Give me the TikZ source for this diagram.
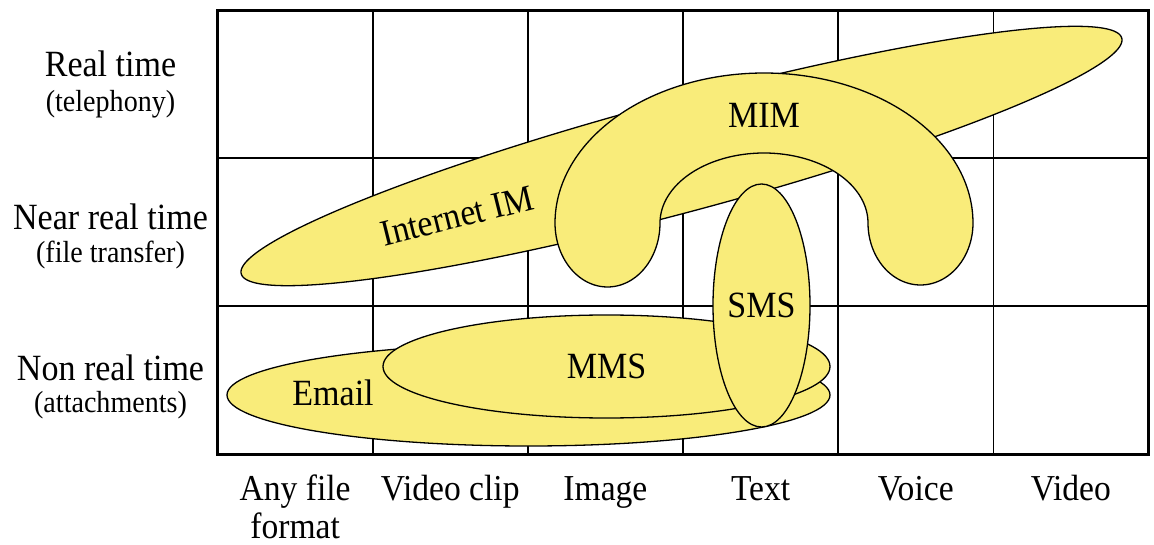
\documentclass[tikz,border=0pt]{standalone}
\usepackage{fontspec}
\setmainfont{Liberation Serif}[FakeStretch=0.92]
\usetikzlibrary{shapes.geometric}
\definecolor{blobfill}{RGB}{249,236,122}
\begin{document}
\begin{tikzpicture}[x=1pt,y=-1pt,
  gridline/.style={draw=black, line width=1.6pt},
  frame/.style={draw=black, line width=3pt},
  blob/.style={draw=black, line width=1.3pt, fill=blobfill, line join=round},
  oval/.style={blob, ellipse, inner sep=0pt, outer sep=0pt},
  biglabel/.style={font=\fontsize{37}{41}\selectfont, inner sep=0pt},
  smalllabel/.style={font=\fontsize{30.5}{34}\selectfont, inner sep=0pt},
  axislabel/.style={font=\fontsize{36.5}{41}\selectfont, inner sep=0pt, anchor=base},
  rowlabel/.style={biglabel, anchor=base},
  rownote/.style={smalllabel, anchor=base}]
\useasboundingbox (0,0) rectangle (1154,545);

% grid of latency classes (rows) and media types (columns)
\foreach \c in {372.7,527.8,683,838.2,993.3}
  \draw[gridline] (\c,10.5) -- (\c,454);
\foreach \r in {158,306}
  \draw[gridline] (217.5,\r) -- (1148.5,\r);

% Internet IM: long slanted oval
\draw[blob] plot[domain=0:360, samples=361]
  ({681.5+440.5*cos(\x)}, {156-116*cos(\x)+58*sin(\x)}) -- cycle;

% MIM: horseshoe band with rounded feet
\draw[blob]
  plot[domain=180:0, samples=120] ({764+209*cos(\x)}, {223-150*sin(\x)})
  -- plot[domain=0:180, samples=60] ({920.5+52.5*cos(\x)}, {223+62*sin(\x)})
  -- plot[domain=0:180, samples=90] ({764+104*cos(\x)}, {223-70*sin(\x)})
  -- plot[domain=0:180, samples=60] ({607.5+52.5*cos(\x)}, {223+64*sin(\x)})
  -- cycle;

% Email, MMS and SMS ovals
\node[oval, minimum width=603, minimum height=102] (email) at (528.5,395) {};
\node[oval, minimum width=447, minimum height=103, biglabel] (mms) at (606.5,366.5) {MMS};
\node[oval, minimum width=97, minimum height=243, biglabel] (sms) at (761.5,305.5) {SMS};

% outer frame
\draw[frame] (217.5,10.5) rectangle (1148.5,454);

% labels inside the shapes
\node[biglabel, anchor=base] (emaillbl) at (333,405) {Email};
\node[biglabel, anchor=base] (mimlbl) at (764,128) {MIM};
\node[biglabel, rotate=14] (iimlbl) at (457,216) {Internet IM};

% row labels
\node[rowlabel] (rt) at (110.5,77) {Real time};
\node[rownote] (rtn) at (110.5,112) {(telephony)};
\node[rowlabel] (nrt) at (110.5,230) {Near real time};
\node[rownote] (nrtn) at (110.5,263) {(file transfer)};
\node[rowlabel] (nonrt) at (110.5,380) {Non real time};
\node[rownote] (nonrtn) at (110.5,412) {(attachments)};

% column labels
\node[axislabel] (anyfile) at (295.1,500) {Any file};
\node[axislabel] (format) at (295.1,538) {format};
\node[axislabel] (vclip) at (450.2,500) {Video clip};
\node[axislabel] (image) at (605.4,500) {Image};
\node[axislabel] (text) at (760.6,500) {Text};
\node[axislabel] (voice) at (915.7,500) {Voice};
\node[axislabel] (video) at (1070.9,500) {Video};
\end{tikzpicture}
\end{document}
